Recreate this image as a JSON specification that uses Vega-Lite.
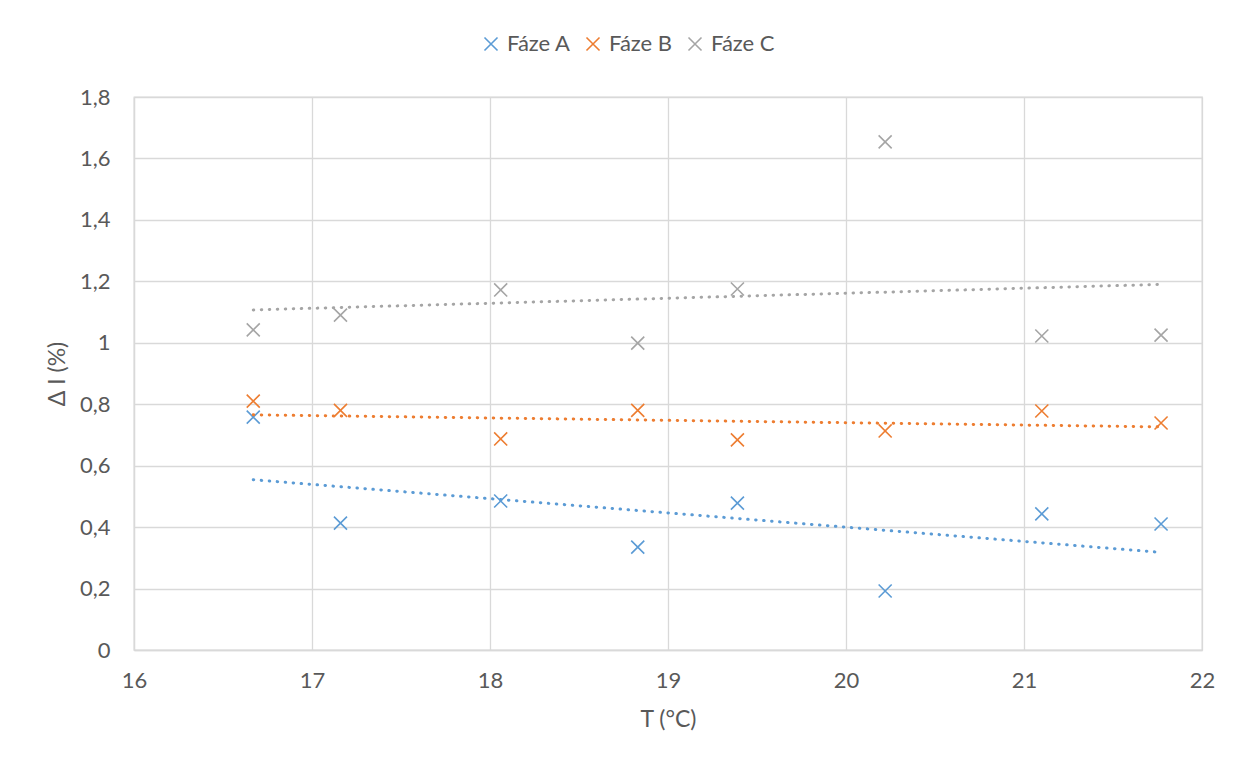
{
  "$schema": "https://vega.github.io/schema/vega-lite/v6.json",
  "width": 1068,
  "height": 553,
  "autosize": {"type": "none"},
  "padding": {"left": 134, "top": 97, "right": 43, "bottom": 112},
  "background": "white",
  "config": {
    "font": "Lato",
    "view": {"stroke": "#d9d9d9", "strokeWidth": 1.3},
    "axis": {
      "labelFont": "Lato",
      "labelFontSize": 22,
      "labelColor": "#595959",
      "titleFont": "Lato",
      "titleFontSize": 23,
      "titleFontWeight": "normal",
      "titleColor": "#595959",
      "gridColor": "#d9d9d9",
      "gridWidth": 1.3,
      "domainColor": "#d9d9d9",
      "domainWidth": 1.3,
      "ticks": false
    },
    "legend": {
      "labelFont": "Lato",
      "labelFontSize": 22,
      "labelColor": "#595959"
    }
  },
  "data": {
    "values": [
      {"T": 16.67, "dI": 0.758, "phase": "Fáze A"},
      {"T": 17.16, "dI": 0.413, "phase": "Fáze A"},
      {"T": 18.06, "dI": 0.485, "phase": "Fáze A"},
      {"T": 18.83, "dI": 0.335, "phase": "Fáze A"},
      {"T": 19.39, "dI": 0.478, "phase": "Fáze A"},
      {"T": 20.22, "dI": 0.192, "phase": "Fáze A"},
      {"T": 21.10, "dI": 0.443, "phase": "Fáze A"},
      {"T": 21.77, "dI": 0.410, "phase": "Fáze A"},
      {"T": 16.67, "dI": 0.810, "phase": "Fáze B"},
      {"T": 17.16, "dI": 0.780, "phase": "Fáze B"},
      {"T": 18.06, "dI": 0.687, "phase": "Fáze B"},
      {"T": 18.83, "dI": 0.780, "phase": "Fáze B"},
      {"T": 19.39, "dI": 0.684, "phase": "Fáze B"},
      {"T": 20.22, "dI": 0.713, "phase": "Fáze B"},
      {"T": 21.10, "dI": 0.778, "phase": "Fáze B"},
      {"T": 21.77, "dI": 0.739, "phase": "Fáze B"},
      {"T": 16.67, "dI": 1.042, "phase": "Fáze C"},
      {"T": 17.16, "dI": 1.090, "phase": "Fáze C"},
      {"T": 18.06, "dI": 1.172, "phase": "Fáze C"},
      {"T": 18.83, "dI": 0.999, "phase": "Fáze C"},
      {"T": 19.39, "dI": 1.175, "phase": "Fáze C"},
      {"T": 20.22, "dI": 1.654, "phase": "Fáze C"},
      {"T": 21.10, "dI": 1.022, "phase": "Fáze C"},
      {"T": 21.77, "dI": 1.025, "phase": "Fáze C"}
    ]
  },
  "encoding": {
    "x": {
      "field": "T",
      "type": "quantitative",
      "scale": {"domain": [16, 22], "nice": false, "zero": false},
      "axis": {"values": [16, 17, 18, 19, 20, 21, 22], "title": "T (°C)", "labelFlush": false, "labelPadding": 20, "titlePadding": 17}
    },
    "y": {
      "field": "dI",
      "type": "quantitative",
      "scale": {"domain": [0, 1.8], "nice": false, "zero": false},
      "axis": {
        "values": [0, 0.2, 0.4, 0.6, 0.8, 1, 1.2, 1.4, 1.6, 1.8],
        "format": "~g",
        "labelExpr": "replace(datum.label, '.', ',')",
        "title": "Δ I (%)",
        "labelPadding": 24,
        "titlePadding": 10
      }
    },
    "color": {
      "field": "phase",
      "type": "nominal",
      "scale": {"domain": ["Fáze A", "Fáze B", "Fáze C"], "range": ["#5B9BD5", "#ED7D31", "#A5A5A5"]}
    }
  },
  "layer": [
    {
      "mark": {"type": "point", "shape": "M-1,-1L1,1M-1,1L1,-1", "filled": false, "size": 170, "strokeWidth": 1.6, "opacity": 1},
      "encoding": {
        "color": {
          "field": "phase",
          "type": "nominal",
          "scale": {"domain": ["Fáze A", "Fáze B", "Fáze C"], "range": ["#5B9BD5", "#ED7D31", "#A5A5A5"]},
          "legend": {
            "title": null,
            "orient": "none",
            "direction": "horizontal",
            "legendX": 346,
            "legendY": -64,
            "symbolType": "M-1,-1L1,1M-1,1L1,-1",
            "symbolSize": 170,
            "symbolStrokeWidth": 1.6,
            "symbolFillColor": "transparent",
            "labelOffset": 5,
            "columnPadding": 11
          }
        }
      }
    },
    {
      "transform": [{"regression": "dI", "on": "T", "groupby": ["phase"]}],
      "mark": {"type": "line", "strokeDash": [0.5, 7.5], "strokeCap": "round", "strokeWidth": 3},
      "encoding": {
        "color": {
          "field": "phase",
          "type": "nominal",
          "scale": {"domain": ["Fáze A", "Fáze B", "Fáze C"], "range": ["#5B9BD5", "#ED7D31", "#A5A5A5"]},
          "legend": null
        }
      }
    }
  ]
}
